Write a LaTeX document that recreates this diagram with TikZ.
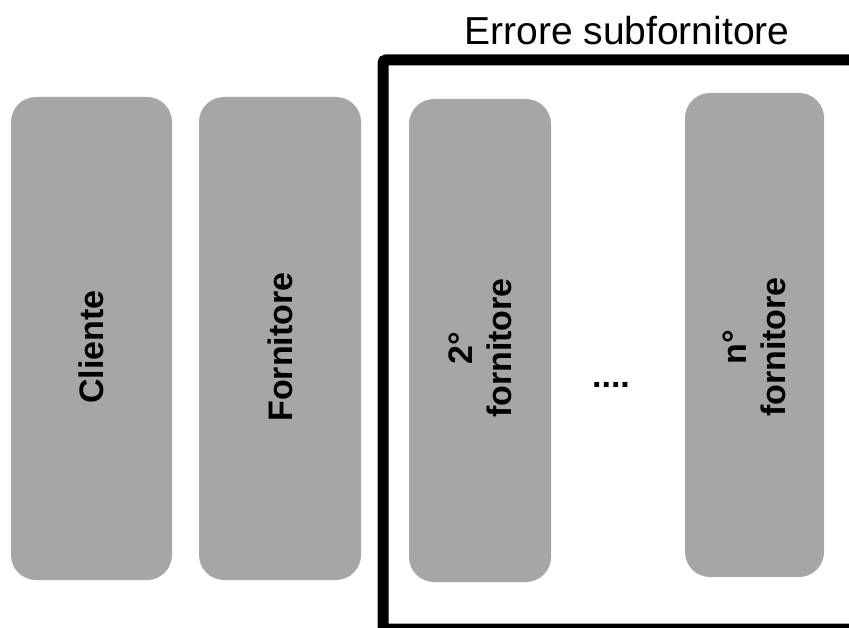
\documentclass[tikz,border=0pt]{standalone}
\usepackage{fontspec}
\setmainfont{Liberation Sans}
\definecolor{boxgray}{RGB}{166,166,166}

\begin{document}
\begin{tikzpicture}[x=1pt,y=1pt,
  actor/.style={fill=boxgray, rounded corners=25pt, inner sep=0pt},
  actortext/.style={rotate=90, align=center, inner sep=0pt,
    font=\fontsize{34}{39}\selectfont\bfseries}]
\useasboundingbox (0,-628) rectangle (849,0);

% subfornitori frame
\draw[line width=11pt, rounded corners=3pt] (383,-60) rectangle (880,-629);
\node (title) at (627,-31) {\fontsize{39}{41}\selectfont Errore subfornitore};

% boxes
\node[actor, minimum width=161pt, minimum height=483pt] (cliente) at (91.5,-338.5) {};
\node[actor, minimum width=162pt, minimum height=483pt] (fornitore) at (280,-338.5) {};
\node[actor, minimum width=142pt, minimum height=483pt] (secondo) at (480,-340.5) {};
\node[actor, minimum width=139pt, minimum height=484pt] (ennesimo) at (754.5,-335) {};

% labels
\node[actortext] (clientelab) at (cliente |- 0,-347) {Cliente};
\node[actortext] (fornitorelab) at (fornitore |- 0,-347) {Fornitore};
\node[actortext] (secondolab) at (secondo |- 0,-348) {2°\\fornitore};
\node[actortext] (ennesimolab) at (ennesimo |- 0,-347) {n°\\fornitore};
\node[font=\fontsize{34}{39}\selectfont\bfseries] (dots) at (611,-385) {....};
\end{tikzpicture}
\end{document}
